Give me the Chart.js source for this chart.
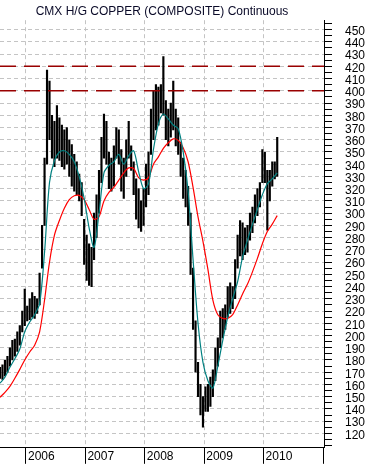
<!DOCTYPE html>
<html><head><meta charset="utf-8">
<style>html,body{margin:0;padding:0;background:#fff;}#wrap{width:371px;height:468px;}</style>
<script src="https://cdn.jsdelivr.net/npm/chart.js@4.4.0/dist/chart.umd.min.js"></script>
</head><body><div id="wrap"><canvas id="c" width="371" height="468"></canvas></div>
<script>
const TITLE = 'CMX H/G COPPER (COMPOSITE) Continuous';
// half-month periods, first one = 2nd half of July 2005
const START_YEAR = 2005, START_HALF = 13;
const highs = [174,176,180,183,190,196,197,203,208,220,238,224,230,235,232,230,251,290,345,417,
  408,380,375,388,378,372,368,370,360,356,348,342,332,325,295,282,275,272,300,315,
  335,362,381,375,350,345,355,370,368,352,345,360,375,355,342,328,320,310,320,340,
  350,385,400,405,403,405,428,392,385,390,408,385,378,358,345,335,322,300,255,212,
  178,160,150,158,160,166,172,190,198,220,222,225,240,243,240,262,282,294,292,288,
  290,300,305,315,320,325,352,350,335,335,342,342,362];
const lows = [165,164,167,170,175,180,183,187,192,203,208,212,213,215,214,218,225,255,290,340,
  360,345,338,345,343,338,336,340,330,322,318,315,310,298,258,245,241,240,262,280,
  300,325,345,340,320,318,322,345,340,318,312,330,345,335,315,295,288,285,290,305,
  315,348,360,368,372,382,380,360,355,362,368,355,348,330,312,305,290,250,205,170,
  150,135,125,138,138,142,150,163,175,190,198,205,215,218,222,230,255,265,262,266,
  268,278,284,292,298,305,325,325,286,310,322,328,330];
// moving averages, read every 2nd period
const ma50 = [161,166,174,181,189,203,211,217,226,268,325,343,350,351,348,342,330,312,288,272,
  300,333,339,342,348,340,347,351,334,320,324,352,373,381,377,372,369,350,318,262,
  210,178,163,157,175,196,215,230,244,264,278,291,303,315,324,328,333];
const ma200 = [149.5,153.5,158.4,165,172.3,180,186.5,192,203,229,260,282,294,304,311,314.2,314.5,311,303,295,
  297,310,317,321,327,333,337,336.5,329,327,329,340,346,353,357.5,360.7,359.5,353.5,342,321,
  297,277,254,229,217,214,214,217,225,234,242,252,263,275,285,291,298];
const levels = [400, 420];
const yearLabels = ['2006','2007','2008','2009','2010','2011'];
const yLabels = [120,130,140,150,160,170,180,190,200,210,220,230,240,250,260,270,280,290,300,
  310,320,330,340,350,360,370,380,390,400,410,420,430,440,450];

const categories = highs.map((_, i) => {
  const h = START_HALF + i;
  const y = START_YEAR + Math.floor(h / 24);
  const m = Math.floor((h % 24) / 2) + 1;
  return y + '-' + String(m).padStart(2, '0') + (h % 2 ? 'b' : 'a');
});
const yearIndex = y => (y - START_YEAR) * 24 - START_HALF - 0.5;
const yearTicks = yearLabels.map(y => yearIndex(+y));
const X_MIN = 0, X_MAX = 130.9;
const yTickValues = [];
for (let v = 110; v <= 455; v += 5) yTickValues.push(v);

const FONT = {family: '"Liberation Sans", Arial, sans-serif', size: 12};

const titlePlugin = {
  id: 'titleText',
  afterDraw(chart) {
    const ctx = chart.ctx, a = chart.chartArea;
    ctx.save();
    ctx.font = '12px "Liberation Sans", Arial, sans-serif';
    ctx.fillStyle = '#0a0a28';
    ctx.textAlign = 'center';
    ctx.textBaseline = 'alphabetic';
    ctx.fillText(TITLE, (a.left + a.right) / 2, 15);
    ctx.restore();
  }
};

new Chart(document.getElementById('c'), {
  type: 'bar',
  data: {
    datasets: [
      ...levels.map(L => ({
        type: 'line', data: [{x: X_MIN, y: L}, {x: X_MAX, y: L}],
        borderColor: '#990000', borderWidth: 1.5, borderDash: [16, 8],
        pointRadius: 0, fill: false
      })),
      {
        type: 'line', label: 'MA50', data: ma50.map((v, i) => ({x: i * 2, y: v})),
        borderColor: '#008080', borderWidth: 1.2, pointRadius: 0, tension: 0.3, fill: false
      },
      {
        type: 'line', label: 'MA200', data: ma200.map((v, i) => ({x: i * 2, y: v})),
        borderColor: '#ff0000', borderWidth: 1.2, pointRadius: 0, tension: 0.3, fill: false
      },
      {
        type: 'bar', label: 'HL', data: highs.map((h, i) => ({x: i, y: [lows[i], h], c: categories[i]})),
        backgroundColor: '#000', borderWidth: 0, barThickness: 1.5
      }
    ]
  },
  options: {
    responsive: false, animation: false, devicePixelRatio: 1,
    layout: {padding: 0},
    plugins: {legend: {display: false}, tooltip: {enabled: false}, title: {display: false}},
    scales: {
      x: {
        type: 'linear', min: X_MIN, max: X_MAX, offset: false,
        afterBuildTicks: s => { s.ticks = yearTicks.map(v => ({value: v})); },
        afterFit: s => { s.height = 16; },
        ticks: {
          autoSkip: false, maxRotation: 0, align: 'start', labelOffset: 2, padding: -14,
          color: '#000', font: FONT,
          callback: (v) => { const i = yearTicks.indexOf(v); return i >= 0 && i < yearLabels.length - 1 ? yearLabels[i] : ''; }
        },
        grid: {
          offset: false, lineWidth: 1, tickLength: 16, tickColor: '#000', tickWidth: 1,
          color: c => (c.tick && c.tick.value < X_MAX - 1) ? '#c4c4c4' : 'rgba(0,0,0,0)'
        },
        border: {display: true, color: '#000', width: 1, dash: [4, 3]}
      },
      y: {
        position: 'right', min: 108.2, max: 457.7,
        afterBuildTicks: s => { s.ticks = yTickValues.map(v => ({value: v})); },
        afterFit: s => { s.width = 47; },
        ticks: {
          autoSkip: false, padding: 13, labelOffset: 2, color: '#000', font: FONT,
          callback: v => yLabels.includes(v) ? String(v) : ''
        },
        grid: {
          lineWidth: 1, tickLength: 8, tickColor: '#000', tickWidth: 1,
          color: c => (c.tick && yLabels.includes(c.tick.value)) ? '#c4c4c4' : 'rgba(0,0,0,0)'
        },
        border: {display: true, color: '#000', width: 1, dash: [4, 3]}
      }
    }
  },
  plugins: [titlePlugin]
});
</script></body></html>
